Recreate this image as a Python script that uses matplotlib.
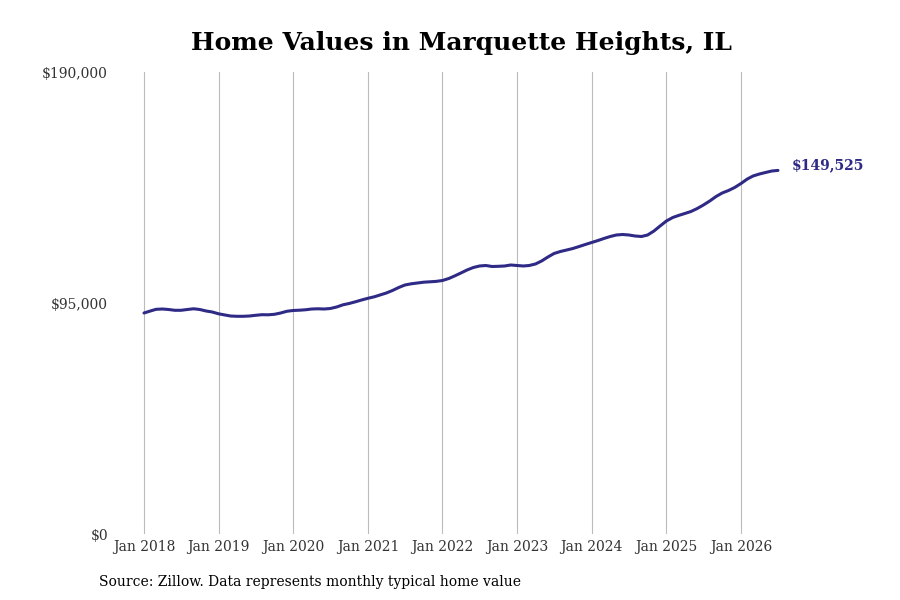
import matplotlib
matplotlib.use("Agg")
import matplotlib.pyplot as plt
import pandas as pd

plt.rcParams['font.family'] = ['DejaVu Serif']

start_month = "2018-01-01"
values = [
    90890, 91710, 92400, 92530, 92330, 92000, 92000, 92330, 92620, 92330, 91710, 91300,
    90560, 90070, 89650, 89530, 89530, 89650, 89940, 90190, 90150, 90350, 90890, 91590,
    91920, 92040, 92210, 92530, 92620, 92530, 92740, 93360, 94260, 94800, 95500, 96240,
    96940, 97550, 98290, 99110, 100140, 101380, 102400, 102900, 103230, 103560, 103720, 103890,
    104260, 105080, 106110, 107340, 108570, 109600, 110220, 110420, 110010, 110090, 110220, 110630,
    110420, 110220, 110420, 111040, 112270, 113920, 115360, 116180, 116800, 117410, 118240, 119060,
    119880, 120700, 121530, 122350, 122970, 123170, 122970, 122550, 122350, 122970, 124610, 126670,
    128730, 130160, 130990, 131810, 132630, 133870, 135300, 136950, 138800, 140240, 141270, 142500,
    144150, 146000, 147230, 148050, 148670, 149290, 149525,
]
dates = pd.date_range(start_month, periods=len(values), freq="MS")
end_label = "$149,525"
yticks = [0, 95000, 190000]
ytick_labels = ["$0", "$95,000", "$190,000"]
xtick_years = list(range(2018, 2027))
title = "Home Values in Marquette Heights, IL"
source = "Source: Zillow. Data represents monthly typical home value"

line_color = "#2e2a85"

fig = plt.figure(figsize=(9, 6), dpi=100)
ax = fig.add_axes([115/900, 1 - 534/600, (790-115)/900, (534-72)/600])

ax.plot(dates, values, color=line_color, linewidth=2.2, solid_capstyle="round")

ax.set_ylim(0, 190000)
ax.set_yticks(yticks)
ax.set_yticklabels(ytick_labels)

x0 = pd.Timestamp("2018-01-01")
x1 = pd.Timestamp("2026-01-01")
dpp = (x1 - x0).days / (741 - 144)
ax.set_xlim(x0 - pd.Timedelta(days=29 * dpp), x1 + pd.Timedelta(days=49 * dpp))
xt = [pd.Timestamp(f"{y}-01-01") for y in xtick_years]
ax.set_xticks(xt)
ax.set_xticklabels([f"Jan {y}" for y in xtick_years])

ax.grid(axis="x", color="#bbbbbb", linewidth=0.8)
ax.grid(axis="y", visible=False)
for s in ax.spines.values():
    s.set_visible(False)
ax.tick_params(axis="both", length=0, labelsize=10, colors="#333333")
ax.tick_params(axis="x", pad=4)
ax.tick_params(axis="y", pad=5)

ax.annotate(end_label, xy=(dates[-1], values[-1]), xytext=(10, 4), textcoords="offset points",
            color=line_color, fontsize=10, fontweight="bold", va="center", ha="left",
            annotation_clip=False)

fig.text(461/900, 1 - 43/600, title, ha="center", va="center", fontsize=18, fontweight="bold")
fig.text(99/900, 1 - 582/600, source, ha="left", va="center", fontsize=10)

fig.savefig("out.png", dpi=100)
